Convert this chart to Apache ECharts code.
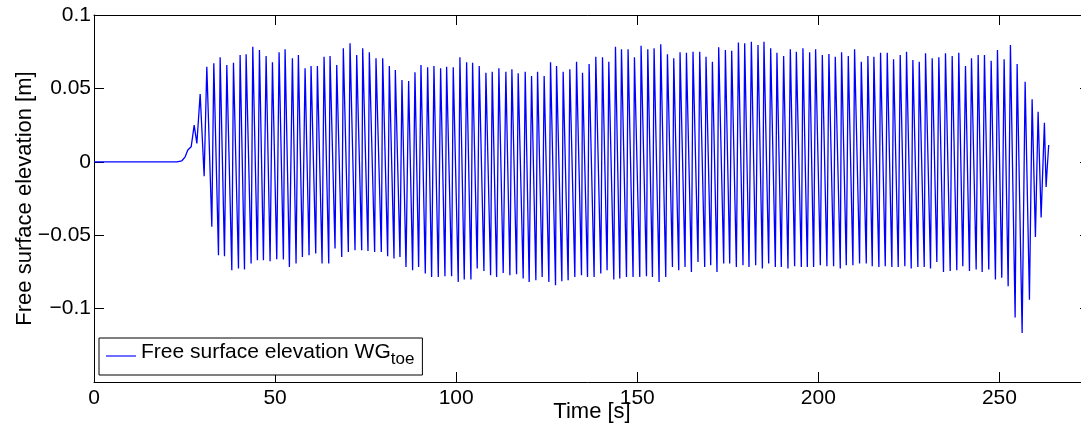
<!DOCTYPE html>
<html><head><meta charset="utf-8">
<script src="https://cdn.jsdelivr.net/npm/echarts@6/dist/echarts.min.js"></script>
<style>html,body{margin:0;padding:0;background:#fff}#c{width:1081px;height:434px}</style>
</head><body><div id="c"></div>
<script>
// Time [s] of each read point (crests / troughs / start-up)
const timeS = [0,22.9,24.26,25.17,25.9,26.83,27.66,28.4,29.31,30.41,31.15,
32.53,33.08,34.37,34.83,36.03,36.67,38.05,38.51,39.89,40.34,41.55,42.0,43.38,43.84,45.12,45.68,46.78,47.52,48.62,49.27,
50.46,51.1,52.29,52.76,53.95,54.78,55.79,56.43,57.54,58.28,59.38,59.93,61.22,61.68,62.97,63.52,64.81,65.17,66.55,67.02,
68.4,68.84,70.22,70.69,72.07,72.53,73.91,74.19,75.65,76.02,77.49,77.86,79.33,79.71,81.08,81.54,82.83,83.2,84.48,85.03,
86.14,86.87,87.97,88.62,89.63,90.28,91.47,92.12,93.22,93.86,95.06,95.7,96.9,97.36,98.74,99.19,100.57,101.03,102.23,102.88,
104.07,104.53,105.81,106.36,107.66,108.21,109.5,109.95,111.16,111.79,112.98,113.72,114.83,115.38,116.67,117.12,118.5,119.06,
120.15,120.81,122.0,122.47,123.74,124.29,125.59,126.05,127.43,127.71,129.17,129.54,130.91,131.38,132.76,133.23,134.6,134.88,
136.26,136.7,138.08,138.55,139.93,140.4,141.67,142.14,143.52,143.98,145.17,145.64,147.02,147.46,148.84,149.22,150.69,151.05,
152.54,152.9,154.19,154.64,156.02,156.48,157.86,158.33,159.71,160.07,161.45,161.81,163.19,163.57,164.95,165.39,166.77,167.24,
168.62,168.98,170.28,170.74,172.01,172.48,173.86,174.33,175.52,176.07,177.36,177.92,179.19,179.66,180.85,181.5,182.69,183.33,
184.54,184.98,186.28,186.83,188.12,188.56,189.77,190.41,191.61,192.26,193.45,193.92,195.3,195.74,196.95,197.59,198.69,199.24,
200.54,201.09,202.36,202.91,204.21,204.67,206.05,206.41,207.71,208.26,209.54,210.0,211.38,211.85,213.23,213.67,214.88,215.33,
216.71,217.17,218.47,219.02,220.29,220.76,222.05,222.6,223.88,224.34,225.64,226.09,227.47,227.85,229.23,229.59,230.97,231.43,
232.71,233.26,234.55,235.1,236.4,236.95,238.22,238.77,239.88,240.62,241.72,242.28,243.57,244.12,245.23,245.86,247.05,247.71,
248.89,249.45,250.64,251.29,252.4,253.03,254.33,254.88,256.26,257.09,258.28,259.02,259.93,260.67,261.5,262.41,262.88,263.16,263.6];

// Free surface elevation [m] at those times
const elevation = [0,0,0.0007,0.0034,0.008,0.0102,0.025,0.0125,0.0462,-0.0098,0.0648,
-0.0443,0.0671,-0.0636,0.0712,-0.0643,0.066,-0.0739,0.0675,-0.0727,0.0728,-0.0734,0.0732,-0.0693,0.0784,-0.067,0.0762,-0.067,0.0721,-0.0677,0.0678,
-0.0664,0.0746,-0.0666,0.0767,-0.0716,0.0705,-0.0693,0.0728,-0.0648,0.0637,-0.0636,0.0653,-0.0625,0.0653,-0.0693,0.0716,-0.0693,0.0721,-0.0591,0.066,
-0.0648,0.0773,-0.0614,0.0807,-0.0602,0.0728,-0.0602,0.0773,-0.0607,0.0746,-0.0614,0.0705,-0.0614,0.0705,-0.0643,0.0653,-0.0659,0.0625,-0.0648,0.0557,
-0.0716,0.055,-0.0739,0.061,-0.0716,0.066,-0.0761,0.0644,-0.0784,0.0653,-0.0784,0.0637,-0.078,0.0648,-0.078,0.0644,-0.0818,0.0712,-0.0802,0.0678,
-0.0802,0.0675,-0.0727,0.0653,-0.0743,0.0607,-0.0773,0.0614,-0.0784,0.0637,-0.0757,0.0614,-0.0773,0.063,-0.0766,0.0603,-0.0795,0.0614,
-0.0818,0.0584,-0.0807,0.0614,-0.0784,0.0584,-0.0818,0.0678,-0.0841,0.0653,-0.0814,0.0614,-0.0807,0.063,-0.0784,0.0682,-0.0773,0.0607,
-0.0784,0.0666,-0.0784,0.0716,-0.0761,0.0712,-0.0739,0.0682,-0.0802,0.0784,-0.0795,0.0767,-0.0784,0.0767,-0.0784,0.0712,-0.0784,0.0791,
-0.078,0.0767,-0.0784,0.0773,-0.0818,0.08,-0.0784,0.0732,-0.0716,0.0705,-0.0739,0.0746,-0.0716,0.0743,-0.075,0.075,-0.0682,0.075,
-0.0716,0.0716,-0.0705,0.0682,-0.075,0.078,-0.0693,0.0762,-0.0693,0.0757,-0.0716,0.0812,-0.0705,0.0807,-0.0716,0.0818,-0.0705,0.0796,
-0.0727,0.0818,-0.0693,0.0773,-0.0716,0.0743,-0.0716,0.0721,-0.0727,0.0767,-0.0711,0.075,-0.0716,0.0773,-0.0716,0.0746,-0.0716,0.0767,
-0.0705,0.0728,-0.0711,0.0735,-0.0711,0.0716,-0.0727,0.0746,-0.0705,0.0721,-0.0705,0.0767,-0.0693,0.0682,-0.0693,0.0721,-0.0711,0.0716,
-0.0716,0.0743,-0.0711,0.0743,-0.0716,0.0698,-0.0716,0.0728,-0.0711,0.075,-0.0727,0.0694,-0.0716,0.0682,-0.0716,0.0739,-0.0727,0.0705,
-0.0682,0.0712,-0.075,0.0739,-0.0743,0.0721,-0.0739,0.0743,-0.0711,0.0653,-0.0743,0.0705,-0.0734,0.0728,-0.075,0.0728,-0.0734,0.0689,
-0.0802,0.0762,-0.0789,0.0698,-0.0848,0.0796,-0.1061,0.0666,-0.1166,0.0546,-0.0939,0.0426,-0.0512,0.0341,-0.0379,0.0266,-0.0171,-0.0052,0.0114];

const xTickLabels = ['0','50','100','150','200','250'];
const yTickLabels = ['0.1','0.05','0','\u22120.05','\u22120.1'];
const seriesName = 'Free surface elevation WGtoe';

const FONT = '"Liberation Sans", Arial, Helvetica, sans-serif';
const data = timeS.map((t, i) => [t, elevation[i]]);

function fmtX(v) {
  const s = String(Math.round(v));
  return (Math.abs(v - Math.round(v)) < 1e-6 && xTickLabels.indexOf(s) >= 0) ? s : '';
}
function fmtY(v) {
  const r = Math.round(v * 100) / 100;
  let s;
  if (r === 0) s = '0';
  else s = (r < 0 ? '\u2212' : '') + String(Math.abs(r));
  return yTickLabels.indexOf(s) >= 0 ? s : '';
}

const tickStyle = { show: true, inside: true, length: 10, lineStyle: { color: '#000', width: 1 } };
const lineStyle = { show: true, onZero: false, lineStyle: { color: '#000', width: 1 } };

const chart = echarts.init(document.getElementById('c'), null, { renderer: 'canvas' });
chart.setOption({
  animation: false,
  backgroundColor: '#fff',
  textStyle: { fontFamily: FONT },
  grid: { left: 94, top: 15, right: -9, bottom: 52, containLabel: false, outerBoundsMode: 'none' },
  legend: {
    left: 99, top: 338,
    orient: 'vertical',
    padding: [4, 8, 5, 7],
    backgroundColor: '#fff',
    borderColor: '#000', borderWidth: 1, borderRadius: 0,
    itemWidth: 30, itemHeight: 2,
    data: [{ name: seriesName, icon: 'rect', itemStyle: { color: '#6e6eff' } }],
    formatter: () => '{a|Free surface elevation WG}{b|toe}',
    textStyle: {
      fontFamily: FONT, color: '#000',
      rich: {
        a: { fontFamily: FONT, fontSize: 21, lineHeight: 22, color: '#000', padding: [0, 0, 7, 0] },
        b: { fontFamily: FONT, fontSize: 17, lineHeight: 18, color: '#000', padding: [7, 0, 0, 0] }
      }
    }
  },
  xAxis: [{
    type: 'value', position: 'bottom', min: 0, max: 275, interval: 50,
    axisLine: lineStyle, axisTick: tickStyle, splitLine: { show: false },
    axisLabel: { formatter: fmtX, color: '#000', fontSize: 21, fontFamily: FONT, margin: 6 },
    name: 'Time [s]', nameLocation: 'middle', nameGap: 19, nameMoveOverlap: false,
    nameTextStyle: { color: '#000', fontSize: 22, fontFamily: FONT }
  }, {
    type: 'value', position: 'top', min: 0, max: 275, interval: 50,
    axisLine: lineStyle, axisTick: tickStyle, splitLine: { show: false },
    axisLabel: { show: false }
  }],
  yAxis: [{
    type: 'value', position: 'left', min: -0.15, max: 0.1, interval: 0.05,
    axisLine: lineStyle, axisTick: tickStyle, splitLine: { show: false },
    axisLabel: { formatter: fmtY, color: '#000', fontSize: 21, fontFamily: FONT, margin: 3 },
    name: 'Free surface elevation [m]', nameLocation: 'middle', nameGap: 58, nameMoveOverlap: false,
    nameTextStyle: { color: '#000', fontSize: 22, fontFamily: FONT }
  }, {
    type: 'value', position: 'right', min: -0.15, max: 0.1, interval: 0.05,
    axisLine: lineStyle, axisTick: tickStyle, splitLine: { show: false },
    axisLabel: { show: false }
  }],
  series: [{
    name: seriesName, type: 'line', xAxisIndex: 0, yAxisIndex: 0,
    data: data, showSymbol: false, symbol: 'none', smooth: false,
    lineStyle: { color: '#0000ff', width: 1.3 }, itemStyle: { color: '#0000ff' },
    clip: true, z: 2
  }]
});
</script></body></html>
